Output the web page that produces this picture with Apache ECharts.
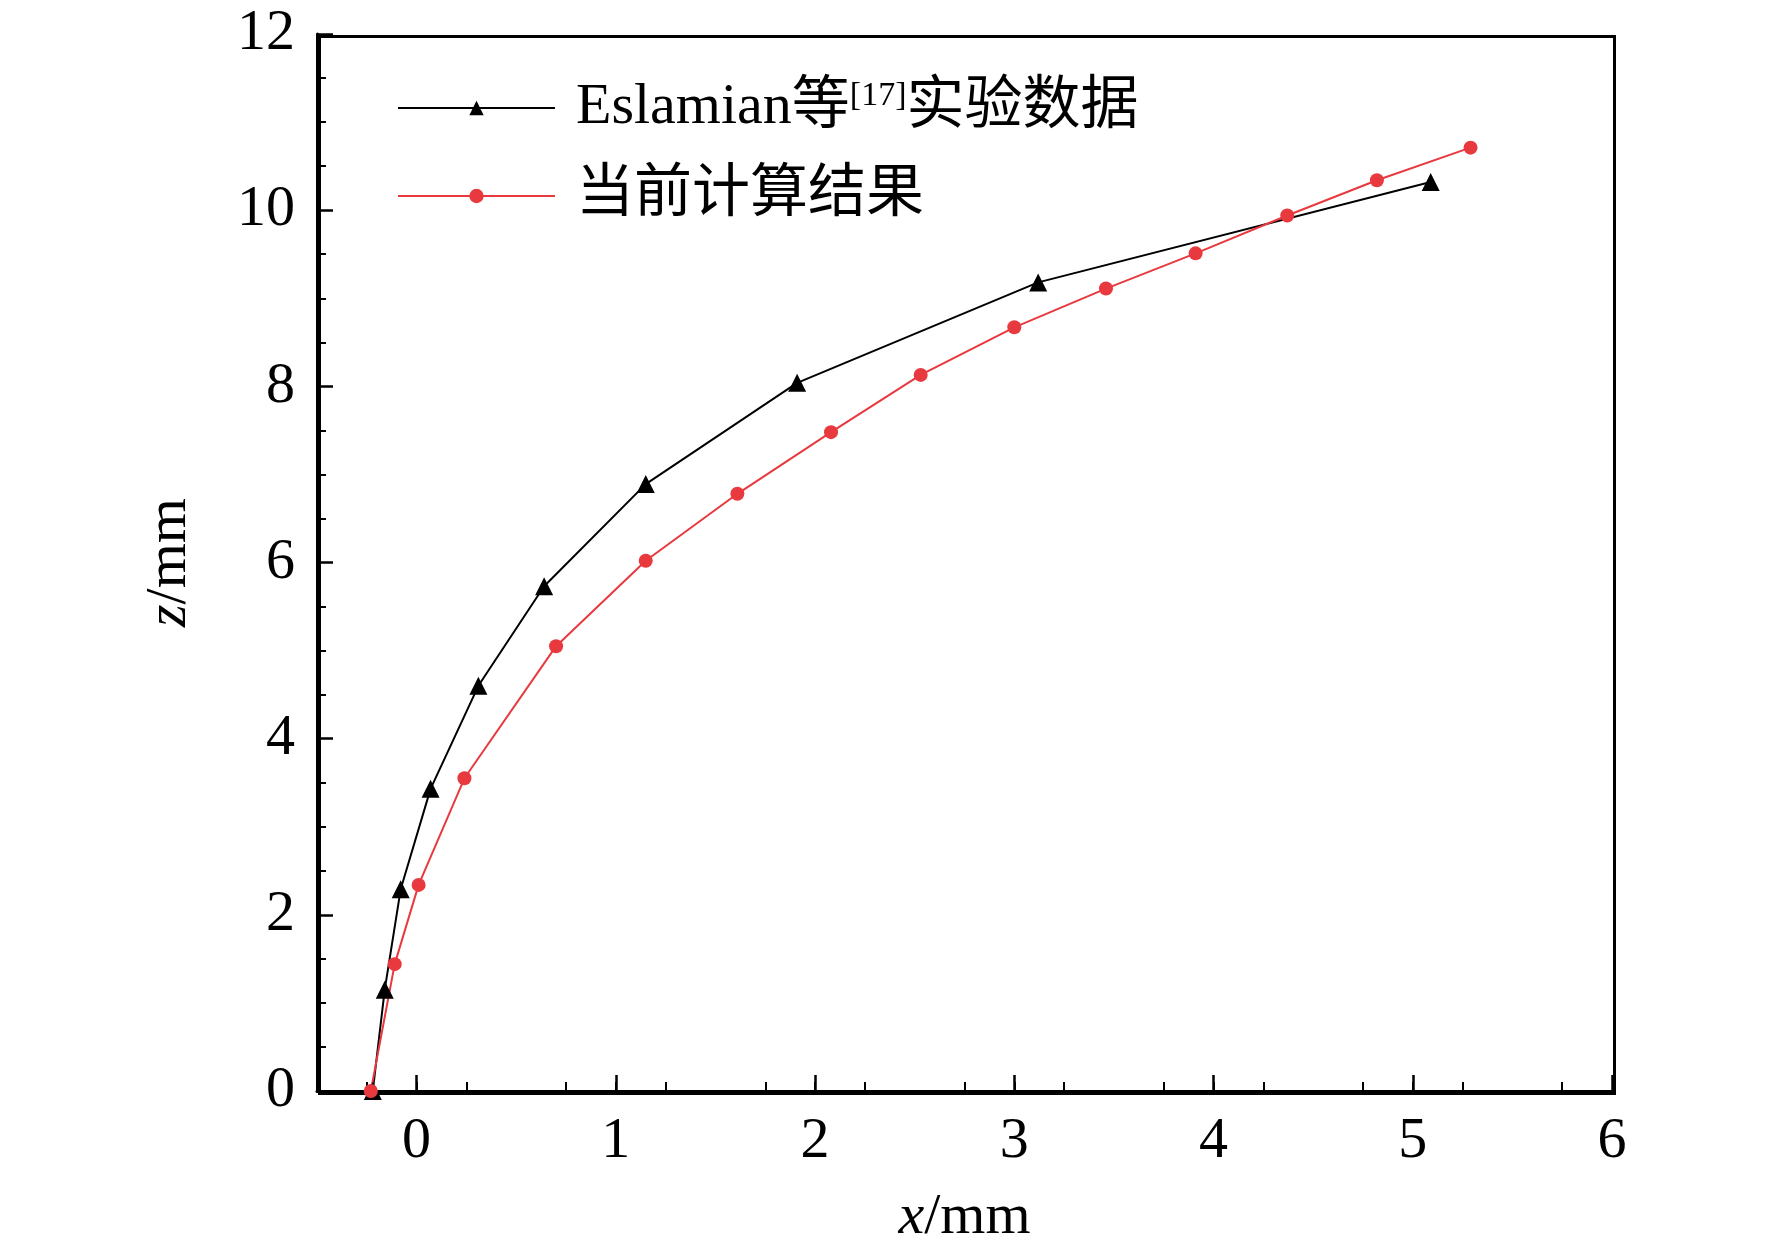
<!DOCTYPE html>
<html>
<head>
<meta charset="utf-8">
<script src="https://cdn.jsdelivr.net/npm/echarts@6/dist/echarts.min.js"></script>
<style>html,body{margin:0;padding:0;background:#fff}#chart{width:1772px;height:1255px}</style>
</head>
<body>
<div id="chart"></div>
<script>
// Eslamian 等 实验数据 (x, z)
const expX = [-0.22, -0.16, -0.08, 0.07, 0.31, 0.64, 1.15, 1.91, 3.12, 5.09]
const expZ = [0, 1.15, 2.29, 3.43, 4.6, 5.73, 6.89, 8.04, 9.18, 10.32]
// 当前计算结果
const calX = [-0.23, -0.11, 0.01, 0.24, 0.70, 1.15, 1.61, 2.08, 2.53, 3.0, 3.46, 3.91, 4.37, 4.82, 5.29]
const calZ = [0, 1.44, 2.34, 3.55, 5.05, 6.02, 6.78, 7.48, 8.13, 8.67, 9.11, 9.51, 9.94, 10.34, 10.71]

const serif = '"Liberation Serif", "Times New Roman", "Noto Sans CJK SC", serif'
const zip = (a, b) => a.map((v, i) => [v, b[i]])

const chart = echarts.init(document.getElementById('chart'))
chart.setOption({
    animation: false,
    backgroundColor: '#fff',
    grid: {left: 317, right: 160, top: 34, bottom: 164},
    legend: {
        orient: 'vertical',
        left: 392,
        top: 74,
        itemWidth: 157,
        itemHeight: 18,
        itemGap: 30,
        textStyle: {
            fontFamily: serif, fontSize: 58, color: '#000', padding: [0, 0, 0, 16],
            rich: {
                t: {fontFamily: serif, fontSize: 58, color: '#000'},
                sup: {fontFamily: serif, fontSize: 34, color: '#000', verticalAlign: 'top', padding: [0, 0, 24, 0]}
            }
        },
        formatter: function (name) {
            if (name === 'exp') {
                return '{t|Eslamian等}{sup|[17]}{t|实验数据}'
            }
            return '{t|当前计算结果}'
        },
        data: ['exp', 'cal']
    },
    xAxis: {
        type: 'value', min: -0.5, max: 6, interval: 1,
        name: '{i|x}{n|/mm}', nameLocation: 'middle', nameGap: 98,
        nameTextStyle: {rich: {
            i: {fontFamily: serif, fontStyle: 'italic', fontSize: 58, color: '#000'},
            n: {fontFamily: serif, fontSize: 58, color: '#000'}
        }},
        axisLine: {onZero: false, lineStyle: {color: '#000', width: 3}},
        axisTick: {inside: true, length: 16, lineStyle: {color: '#000', width: 2.5}, customValues: [0, 1, 2, 3, 4, 5, 6]},
        minorTick: {show: true, splitNumber: 4, length: 9, lineStyle: {color: '#000', width: 2}},
        axisLabel: {fontFamily: serif, fontSize: 58, color: '#000', margin: 22, customValues: [0, 1, 2, 3, 4, 5, 6]},
        splitLine: {show: false}
    },
    yAxis: {
        type: 'value', min: 0, max: 12, interval: 2,
        name: '{i|z}{n|/mm}', nameLocation: 'middle', nameGap: 118, nameRotate: 90,
        nameTextStyle: {rich: {
            i: {fontFamily: serif, fontStyle: 'italic', fontSize: 58, color: '#000'},
            n: {fontFamily: serif, fontSize: 58, color: '#000'}
        }},
        axisLine: {onZero: false, lineStyle: {color: '#000', width: 3}},
        axisTick: {inside: true, length: 16, lineStyle: {color: '#000', width: 2.5}},
        minorTick: {show: true, splitNumber: 4, length: 9, lineStyle: {color: '#000', width: 2}},
        axisLabel: {fontFamily: serif, fontSize: 58, color: '#000', margin: 22},
        splitLine: {show: false}
    },
    graphic: [{
        type: 'rect', left: 317, top: 34,
        shape: {width: 1295, height: 1057},
        style: {fill: 'none', stroke: '#000', lineWidth: 3}, silent: true
    }],
    series: [
        {
            name: 'exp', type: 'line', data: zip(expX, expZ),
            symbol: 'triangle', symbolSize: 18, showAllSymbol: true,
            lineStyle: {color: '#000', width: 2}, itemStyle: {color: '#000'}
        },
        {
            name: 'cal', type: 'line', data: zip(calX, calZ),
            symbol: 'circle', symbolSize: 14, showAllSymbol: true,
            lineStyle: {color: '#e8393f', width: 2}, itemStyle: {color: '#e8393f'}
        }
    ]
})
</script>
</body>
</html>
